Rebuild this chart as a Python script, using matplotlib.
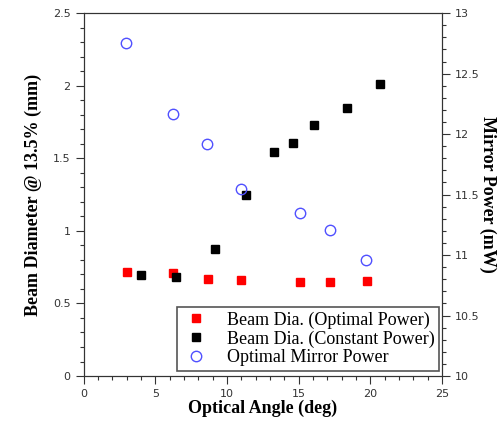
import numpy as np
import matplotlib
matplotlib.use("Agg")
import matplotlib.pyplot as plt
from matplotlib.ticker import MultipleLocator, FuncFormatter

# ----data----
angOpt = [2.99, 6.25, 8.63, 11.0, 15.06, 17.16, 19.77]
diaOpt = [0.716, 0.709, 0.670, 0.659, 0.650, 0.650, 0.657]

angConst = [4.01, 6.44, 9.12, 11.3, 13.26, 14.59, 16.04, 18.33, 20.66]
diaConst = [0.698, 0.680, 0.877, 1.244, 1.543, 1.607, 1.729, 1.848, 2.011]

angPow = [2.96, 6.25, 8.59, 10.95, 15.06, 17.16, 19.72]
mirPow = [12.75, 12.165, 11.92, 11.55, 11.35, 11.21, 10.96]

serif = "Liberation Serif"
tickFont = "DejaVu Sans"

fig = plt.figure(figsize=(4.99, 4.23), dpi=100)
ax = fig.add_axes([0.168, 0.111, 0.718, 0.858])
ax2 = ax.twinx()

h1, = ax.plot(angOpt, diaOpt, ls="none", marker="s", ms=6, color="#ff0000", mec="#ff0000")
h2, = ax.plot(angConst, diaConst, ls="none", marker="s", ms=6, color="black", mec="black")
h3, = ax2.plot(angPow, mirPow, ls="none", marker="o", ms=7.5, mfc="none", mec="#5050ff", mew=1.0)

ax.set_xlim(0, 25)
ax.set_ylim(0, 2.5)
ax2.set_ylim(10, 13)

fmt = FuncFormatter(lambda v, p: f"{v:g}")
ax.xaxis.set_major_locator(MultipleLocator(5))
ax.xaxis.set_minor_locator(MultipleLocator(1))
ax.yaxis.set_major_locator(MultipleLocator(0.5))
ax.yaxis.set_minor_locator(MultipleLocator(0.1))
ax2.yaxis.set_major_locator(MultipleLocator(0.5))
ax2.yaxis.set_minor_locator(MultipleLocator(0.1))
ax.xaxis.set_major_formatter(fmt)
ax.yaxis.set_major_formatter(fmt)
ax2.yaxis.set_major_formatter(fmt)

for a in (ax, ax2):
    a.tick_params(which="major", direction="out", length=6, width=0.8, labelsize=8, colors="#333333",
                  labelfontfamily=tickFont)
    a.tick_params(which="minor", direction="out", length=3, width=0.8, colors="#333333")
    for sp in a.spines.values():
        sp.set_color("#333333")

ax.set_xlabel("Optical Angle (deg)", family=serif, fontweight="bold", fontsize=13, labelpad=0)
ax.set_ylabel("Beam Diameter @ 13.5% (mm)", family=serif, fontweight="bold", fontsize=13, labelpad=8)
ax2.set_ylabel("Mirror Power (mW)", family=serif, fontweight="bold", fontsize=13, rotation=270, labelpad=12)

leg = ax.legend([h1, h2, h3],
                ["Beam Dia. (Optimal Power)", "Beam Dia. (Constant Power)", "Optimal Mirror Power"],
                loc="lower right", bbox_to_anchor=(0.992, 0.014), prop={"family": serif, "size": 13},
                fancybox=False, framealpha=1, edgecolor="#555555", borderpad=0.25,
                labelspacing=0.1, handletextpad=0.9, handlelength=1.6, borderaxespad=0)
leg.get_frame().set_linewidth(1.2)

fig.savefig("out.png", dpi=100)
